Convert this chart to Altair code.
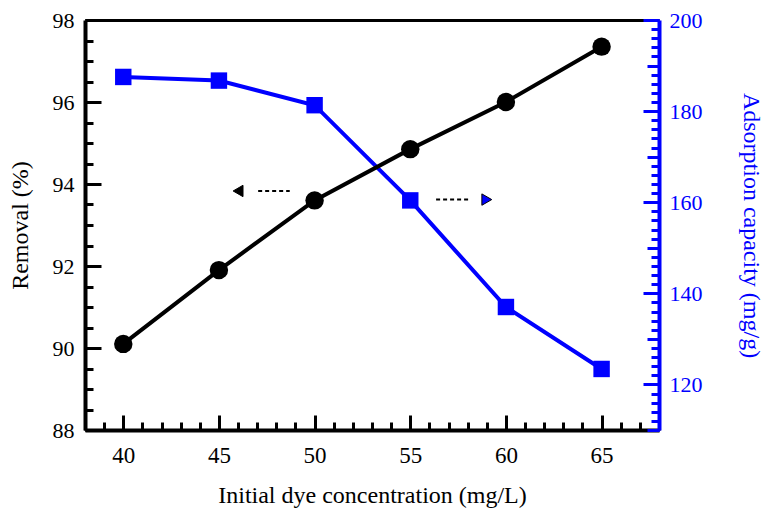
import altair as alt
import pandas as pd

# ---- data ----
conc = [40, 45, 50, 55, 60, 65]
removal = [90.1, 91.9, 93.6, 94.85, 96.0, 97.35]
capacity = [187.5, 186.7, 181.3, 160.4, 137.0, 123.4]

# axis tick values
x_major = [40, 45, 50, 55, 60, 65]
x_minor = list(range(38, 69))
yl_major = [88, 90, 92, 94, 96, 98]
yl_minor = [88 + 0.5 * i for i in range(21)]
yr_labels = [120, 140, 160, 180, 200]
yr_medium = [110, 130, 150, 170, 190]
yr_minor = list(range(110, 201, 2))

# arrow annotations (data units, left axis)
arrow_dash_x = [47.05, 56.35]
arrow_dash_x2 = [48.7, 58.1]
arrow_dash_y = [93.83, 93.62]
arrow_tip_x = [46.0, 59.0]
arrow_tip_y = [93.83, 93.62]
arrow_shape = ["triangle-left", "triangle-right"]
arrow_color = ["black", "#0000ff"]

FONT = "Liberation Serif"
BLUE = "#0000ff"
W, H = 574, 410

df = pd.DataFrame({"conc": conc, "removal": removal, "capacity": capacity})
dash_df = pd.DataFrame({"x": arrow_dash_x, "x2": arrow_dash_x2, "y": arrow_dash_y})
tip_df = pd.DataFrame({"x": arrow_tip_x, "y": arrow_tip_y, "shape": arrow_shape, "color": arrow_color})

XS = alt.Scale(domain=[38, 68], nice=False, zero=False)
YL = alt.Scale(domain=[88, 98], nice=False, zero=False)
YR = alt.Scale(domain=[110, 200], nice=False, zero=False)


def tick_axis(orient, offset, values, size, color):
    return alt.Axis(orient=orient, offset=offset, values=values, ticks=True,
                    tickSize=size, tickWidth=3, tickColor=color, labels=False,
                    domain=False, grid=False, title=None)


# axes
x_label_axis = alt.Axis(orient="bottom", values=x_major, ticks=False, domain=True,
                        domainColor="black", domainWidth=4, labelFont=FONT,
                        labelFontSize=23, labelColor="black", labelPadding=14,
                        title="Initial dye concentration (mg/L)", titleFont=FONT,
                        titleFontSize=24, titleFontWeight="normal", titleColor="black",
                        titlePadding=16, grid=False)
x_top_axis = alt.Axis(orient="top", ticks=False, labels=False, domain=True,
                      domainColor="black", domainWidth=3, grid=False, title=None)
x_major_axis = tick_axis("top", -H, x_major, 15, "black")
x_minor_axis = tick_axis("top", -H, x_minor, 8, "black")

yl_label_axis = alt.Axis(orient="left", values=yl_major, ticks=False, domain=True,
                         domainColor="black", domainWidth=4, labelFont=FONT,
                         labelFontSize=22, labelColor="black", labelPadding=11,
                         title="Removal (%)", titleFont=FONT, titleFontSize=24,
                         titleFontWeight="normal", titleColor="black", titlePadding=20,
                         grid=False)
yl_major_axis = tick_axis("right", -W, yl_major, 16, "black")
yl_minor_axis = tick_axis("right", -W, yl_minor, 8, "black")

yr_label_axis = alt.Axis(orient="right", values=yr_labels, ticks=False, domain=True,
                         domainColor=BLUE, domainWidth=4, labelFont=FONT,
                         labelFontSize=22, labelColor=BLUE, labelPadding=10,
                         title="Adsorption capacity (mg/g)", titleFont=FONT,
                         titleFontSize=24, titleFontWeight="normal", titleColor=BLUE,
                         titlePadding=36, grid=False)
yr_major_axis = tick_axis("left", -W, yr_labels, 16, BLUE)
yr_medium_axis = tick_axis("left", -W, yr_medium, 12, BLUE)
yr_minor_axis = tick_axis("left", -W, yr_minor, 8, BLUE)

base = alt.Chart(df)


def xenc(axis):
    if axis is None:
        return alt.X("conc:Q", scale=XS, axis=None)
    return alt.X("conc:Q", scale=XS, axis=axis)


def yl(axis):
    if axis is None:
        return alt.Y("removal:Q", scale=YL, axis=None)
    return alt.Y("removal:Q", scale=YL, axis=axis)


def yr(axis):
    if axis is None:
        return alt.Y("capacity:Q", scale=YR, axis=None)
    return alt.Y("capacity:Q", scale=YR, axis=axis)


blue_line = base.mark_line(color=BLUE, strokeWidth=4).encode(x=xenc(x_top_axis), y=yr(yr_label_axis))
blue_sq = base.mark_square(color=BLUE, size=270, opacity=1).encode(x=xenc(None), y=yr(yr_major_axis))
blue_t1 = base.mark_point(opacity=0).encode(x=xenc(None), y=yr(yr_medium_axis))
blue_t2 = base.mark_point(opacity=0).encode(x=xenc(None), y=yr(yr_minor_axis))

black_line = base.mark_line(color="black", strokeWidth=4).encode(x=xenc(x_label_axis), y=yl(yl_label_axis))
black_pts = base.mark_circle(color="black", size=340, opacity=1).encode(x=xenc(x_major_axis), y=yl(yl_major_axis))
black_t = base.mark_point(opacity=0).encode(x=xenc(x_minor_axis), y=yl(yl_minor_axis))

dashes = alt.Chart(dash_df).mark_rule(color="black", strokeWidth=2, strokeDash=[4, 3]).encode(
    x=alt.X("x:Q", scale=XS, axis=None), x2="x2:Q",
    y=alt.Y("y:Q", scale=YL, axis=None))
tips = alt.Chart(tip_df).mark_point(filled=True, size=130, opacity=1, stroke="black",
                                    strokeWidth=1).encode(
    x=alt.X("x:Q", scale=XS, axis=None),
    y=alt.Y("y:Q", scale=YL, axis=None),
    shape=alt.Shape("shape:N", scale=None),
    fill=alt.Fill("color:N", scale=None))

chart = alt.layer(
    blue_line, blue_sq, blue_t1, blue_t2, black_line, black_pts, black_t, dashes, tips
).resolve_scale(y="independent").resolve_axis(x="independent", y="independent").properties(
    width=W, height=H,
    autosize=alt.AutoSizeParams(type="none"),
    padding={"left": 77, "top": 12, "right": 107, "bottom": 84},
).configure_view(stroke=None)

chart.save("out.html", embed_options={"renderer": "svg", "actions": False})
